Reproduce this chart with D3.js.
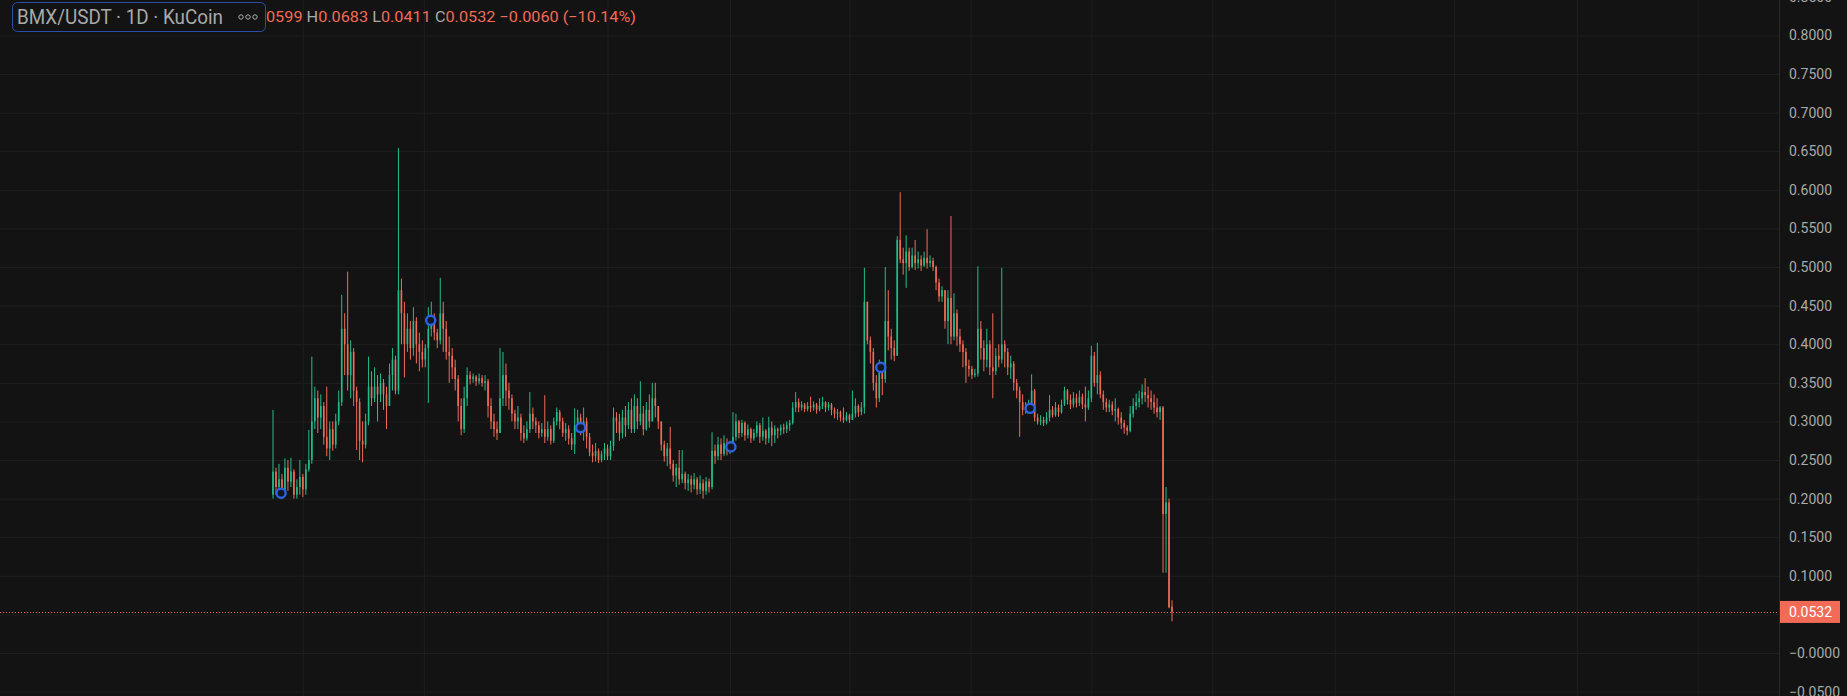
<!DOCTYPE html>
<html lang="en">
<head>
<meta charset="utf-8">
<title>BMX/USDT · 1D · KuCoin</title>
<script src="https://d3js.org/d3.v7.min.js"></script>
<style>
  html, body { margin: 0; padding: 0; background: #131313; overflow: hidden; }
  svg { display: block; font-family: Roboto, "Noto Sans", sans-serif; }
</style>
</head>
<body>
<svg id="chart"></svg>
<script>
// daily candles (open = previous close)
var firstOpen = 0.205;
var lastOpen = 0.0599;

var closes = [
  .235,.215,.225,.208,.240,.222,.235,.205,.215,.228,.212,.238,
  .250,.300,.330,.305,.320,.280,.265,.290,.270,.300,.325,
  .420,.400,.360,.390,.340,.325,.275,.270,.300,.345,.330,
  .345,.335,.350,.335,.320,.360,.380,.340,
  .470,.440,.400,.420,.395,.430,.400,.390,.380,.395,.420,
  .431,.415,.405,.440,.420,.390,.385,.370,.355,.320,.290,
  .330,.360,.355,.358,.352,.356,.350,.352,.320,.300,.290,.285,.330,.360,.340,
  .330,.310,.300,.305,.285,.278,.290,.310,.300,.295,.285,.290,.280,.290,.275,.300,.312,.300,.285,.290,.278,.270,
  .295,.305,.292,.300,.280,.260,.255,.262,.250,.258,.265,.255,.268,
  .305,.300,.285,.305,.295,.315,.290,.320,.300,.310,.290,.315,.300,.330,.320,.300,
  .270,.255,.265,.245,.230,.240,.225,.232,.220,.225,.218,.225,.212,.220,.210,.222,.215,
  .262,.255,.270,.258,.272,.262,.267,.280,.300,.285,
  .298,.282,.290,.278,.285,.295,.280,.288,.278,.292,.282,.290,.288,.292,.290,.295,.298,
  .318,.325,.318,.322,.316,.320,.318,.322,.315,.320,.325,.318,.322,.315,.310,.312,.305,.302,.308,.302,.310,.320,.312,.318,
  .455,.405,.390,.350,.330,.370,.355,.430,.410,.395,.385,
  .535,.510,.505,.520,.500,.515,.505,.510,.502,.512,.505,.508,.500,
  .480,.462,.470,.430,.460,.410,.440,.410,.400,.390,.372,.368,.360,.362,
  .420,.395,.380,.400,.370,.365,.385,.380,.400,.390,.370,.375,.350,.340,.325,.315,.318,.320,
  .340,.305,.300,.302,.298,.305,.315,.308,.318,.312,.322,.340,.328,.322,.330,.324,.332,.322,.318,.330,
  .385,.350,.360,.335,.325,.318,.322,.314,.316,.305,.298,.292,.288,.310,.320,.325,.330,.338,.334,.330,.325,.318,.312,
  .318,.180,.195,.0592,.0532
];

var highs = [
  .315,.240,.245,.232,.252,.250,.253,.238,.225,.250,.232,.245,
  .289,.384,.345,.340,.335,.325,.345,.300,.300,.310,.340,
  .464,.440,.494,.405,.395,.345,.330,.300,.310,.384,.365,
  .370,.360,.362,.355,.345,.375,.395,.385,
  .654,.485,.455,.440,.430,.448,.435,.415,.405,.400,.448,
  .455,.440,.420,.486,.455,.430,.410,.395,.380,.360,.330,
  .345,.370,.365,.362,.360,.362,.360,.360,.355,.330,.310,.300,.395,.390,.375,
  .350,.335,.315,.320,.310,.295,.300,.338,.318,.305,.300,.298,.334,.300,.295,.305,.318,.315,.305,.298,.295,.285,
  .317,.315,.310,.318,.305,.285,.270,.272,.265,.262,.272,.270,.275,
  .318,.312,.310,.315,.320,.325,.330,.335,.330,.352,.320,.325,.335,.350,.350,.320,
  .300,.275,.272,.293,.250,.245,.263,.263,.235,.232,.230,.233,.228,.230,.225,.228,.226,
  .286,.270,.280,.278,.282,.278,.275,.312,.310,.302,
  .302,.300,.296,.292,.290,.300,.298,.305,.290,.306,.300,.295,.292,.296,.297,.300,.302,
  .325,.338,.330,.326,.324,.325,.332,.326,.324,.330,.332,.326,.325,.324,.318,.316,.314,.318,.312,.310,.340,.330,.322,.325,
  .499,.455,.410,.395,.360,.380,.375,.500,.470,.420,.405,
  .540,.597,.525,.541,.525,.525,.535,.520,.515,.520,.549,.515,.512,
  .502,.485,.475,.468,.470,.566,.466,.445,.420,.405,.395,.380,.372,.368,
  .501,.430,.405,.420,.405,.440,.395,.400,.499,.405,.395,.385,.378,.355,.345,.335,.325,.328,
  .361,.342,.310,.308,.306,.312,.334,.320,.325,.322,.328,.345,.342,.335,.338,.336,.340,.336,.345,.340,
  .398,.390,.402,.365,.340,.330,.328,.326,.330,.318,.312,.302,.295,.320,.330,.336,.340,.348,.356,.345,.340,.335,.330,
  .320,.320,.215,.200,.0683
];

var lows = [
  .200,.205,.205,.200,.205,.210,.215,.200,.200,.205,.202,.205,
  .235,.245,.290,.285,.290,.270,.255,.250,.262,.265,.295,
  .320,.360,.340,.330,.320,.263,.250,.247,.265,.295,.320,
  .325,.300,.325,.315,.290,.320,.340,.335,
  .335,.400,.357,.390,.380,.385,.375,.365,.370,.370,.324,
  .410,.405,.395,.400,.390,.380,.350,.355,.340,.300,.282,
  .285,.320,.348,.350,.346,.348,.345,.340,.305,.290,.280,.276,.285,.320,.320,
  .315,.300,.290,.290,.275,.272,.275,.285,.290,.285,.278,.280,.272,.275,.270,.272,.295,.290,.280,.275,.270,.263,
  .258,.288,.282,.275,.265,.255,.247,.248,.246,.247,.250,.250,.250,
  .262,.285,.275,.278,.280,.290,.285,.285,.290,.295,.282,.288,.292,.300,.305,.290,
  .262,.248,.242,.238,.222,.215,.218,.220,.212,.210,.208,.212,.205,.206,.200,.205,.208,
  .212,.245,.250,.250,.255,.256,.258,.262,.275,.278,
  .280,.275,.278,.272,.275,.280,.272,.275,.270,.272,.268,.272,.278,.282,.284,.285,.288,
  .296,.312,.312,.314,.312,.313,.312,.314,.310,.313,.316,.312,.314,.308,.304,.302,.300,.298,.300,.298,.302,.305,.306,.308,
  .310,.400,.375,.340,.318,.325,.334,.350,.392,.380,.378,
  .440,.505,.490,.473,.495,.498,.496,.498,.495,.500,.498,.500,.495,
  .470,.455,.455,.420,.400,.400,.405,.398,.390,.370,.350,.358,.355,.357,
  .358,.380,.365,.370,.360,.330,.360,.370,.375,.370,.360,.355,.340,.330,.280,.308,.310,.310,
  .312,.300,.296,.295,.294,.296,.300,.305,.306,.306,.310,.320,.322,.316,.318,.318,.320,.316,.300,.315,
  .325,.345,.335,.330,.315,.312,.312,.308,.300,.296,.290,.284,.282,.286,.305,.315,.318,.322,.325,.318,.315,.310,.305,
  .302,.104,.104,.058,.0411
];

// blue event markers (candle index, price)
var markerIdx = [2.7, 52.8, 103, 153.3, 203.5, 253.5];
var markerVal = [0.207, 0.431, 0.292, 0.267, 0.370, 0.317];

var priceTicks = [-0.05, 0, 0.05, 0.10, 0.15, 0.20, 0.25, 0.30, 0.35, 0.40, 0.45, 0.50, 0.55, 0.60, 0.65, 0.70, 0.75, 0.80, 0.85];
var priceLabels = ["\u22120.0500", "\u22120.0000", "0.0500", "0.1000", "0.1500", "0.2000", "0.2500", "0.3000", "0.3500", "0.4000",
                   "0.4500", "0.5000", "0.5500", "0.6000", "0.6500", "0.7000", "0.7500", "0.8000", "0.8500"];
// vertical grid lines, in candle-index units
var timeTicks = [10, 50.5, 112, 153, 193, 233.5, 274, 314.5, 355.5, 395.5, 436.5, 477];

var symbolTitle = "BMX/USDT \u00b7 1D \u00b7 KuCoin";

if (closes.length !== highs.length || closes.length !== lows.length) {
    console.error("length mismatch", closes.length, highs.length, lows.length);
}

var width = 1847, height = 696, plotW = 1779;
var upColor = "#22bd8d", downColor = "#f26b57";

var candles = closes.map(function(c, i) {
    var o = i === 0 ? firstOpen : closes[i - 1];
    if (i === closes.length - 1) o = lastOpen;
    return { i: i, o: o, c: c,
             h: Math.max(highs[i], o, c), l: Math.min(lows[i], o, c) };
});
var last = candles[candles.length - 1];
var prevClose = candles[candles.length - 2].c;

var x = d3.scaleLinear().domain([0, candles.length - 1]).range([273, 1172]);
var y = d3.scaleLinear().domain([-0.0557, 0.8459]).range([height, 0]);

var svg = d3.select("#chart").attr("width", width).attr("height", height);
svg.append("rect").attr("width", width).attr("height", height).attr("fill", "#131313");

// grid
var gridH = svg.append("g")
    .call(d3.axisRight(y).tickValues(priceTicks).tickSize(plotW).tickFormat(""));
var gridV = svg.append("g")
    .call(d3.axisBottom(x).tickValues(timeTicks).tickSize(height).tickFormat(""));
[gridH, gridV].forEach(function(g) {
    g.select(".domain").remove();
    g.selectAll("line").attr("stroke", "#1f1f1f").attr("stroke-width", 1);
});

// candles
var cg = svg.append("g");
cg.selectAll("line.wick")
    .data(candles)
    .enter()
    .append("line")
    .attr("class", "wick")
    .attr("x1", function(d) { return x(d.i); })
    .attr("x2", function(d) { return x(d.i); })
    .attr("y1", function(d) { return y(d.h); })
    .attr("y2", function(d) { return y(d.l); })
    .attr("stroke", function(d) { return d.c >= d.o ? upColor : downColor; })
    .attr("stroke-width", 1);

cg.selectAll("rect.body")
    .data(candles)
    .enter()
    .append("rect")
    .attr("class", "body")
    .attr("x", function(d) { return x(d.i) - 0.8; })
    .attr("width", 1.6)
    .attr("y", function(d) { return y(Math.max(d.o, d.c)); })
    .attr("height", function(d) { return Math.max(1, Math.abs(y(d.o) - y(d.c))); })
    .attr("fill", function(d) { return d.c >= d.o ? upColor : downColor; });

// markers
svg.append("g").selectAll("circle")
    .data(markerIdx)
    .enter()
    .append("circle")
    .attr("cx", function(d) { return x(d); })
    .attr("cy", function(d, i) { return y(markerVal[i]); })
    .attr("r", 4.6)
    .attr("fill", "#111726")
    .attr("stroke", "#2f62e0")
    .attr("stroke-width", 2.4);

// last price line
var yLast = y(last.c);
svg.append("line")
    .attr("x1", 0).attr("x2", plotW)
    .attr("y1", Math.round(yLast) + 0.5).attr("y2", Math.round(yLast) + 0.5)
    .attr("stroke", downColor)
    .attr("stroke-width", 1)
    .attr("stroke-dasharray", "1,2");

// price axis
svg.append("line")
    .attr("x1", plotW + 0.5).attr("x2", plotW + 0.5)
    .attr("y1", 0).attr("y2", height)
    .attr("stroke", "#2a2a2a");

var axis = svg.append("g")
    .attr("transform", "translate(" + plotW + ",0)")
    .call(d3.axisRight(y).tickValues(priceTicks)
        .tickFormat(function(d, i) { return priceLabels[i]; })
        .tickSize(0).tickPadding(10));
axis.select(".domain").remove();
axis.selectAll("text")
    .attr("fill", "#a9a9a9")
    .attr("font-size", 14)
    .attr("font-family", "Roboto, sans-serif")
    .style("display", function(d) { return Math.abs(y(d) - yLast) < 14 ? "none" : null; });

svg.append("rect")
    .attr("x", plotW + 1).attr("y", yLast - 11)
    .attr("width", 60).attr("height", 22)
    .attr("fill", downColor);
svg.append("text")
    .attr("x", plotW + 10).attr("y", yLast + 5)
    .attr("fill", "#ffffff")
    .attr("font-size", 14)
    .text(last.c.toFixed(4));

// legend header
function fmt(v) { return v.toFixed(4).replace("-", "\u2212"); }
var change = last.c - prevClose;
var pct = change / prevClose * 100;

var vals = svg.append("text")
    .attr("y", 22)
    .attr("font-size", 15);
var parts = [["O", fmt(last.o)], [" H", fmt(last.h)], [" L", fmt(last.l)], [" C", fmt(last.c)],
             [" ", fmt(change) + " (" + pct.toFixed(2).replace("-", "\u2212") + "%)"]];
parts.forEach(function(p) {
    vals.append("tspan").attr("fill", "#a9a9a9").text(p[0]);
    vals.append("tspan").attr("fill", downColor).text(p[1]);
});
// stretch so the visible part runs from the box edge to x=636
var full = vals.node().getComputedTextLength();
var probe = svg.append("text").attr("font-size", 15).text("O0.");
var hidden = probe.node().getComputedTextLength();
probe.remove();
var k = 370 / (full - hidden);
vals.attr("x", 636 - full * k)
    .attr("textLength", full * k)
    .attr("lengthAdjust", "spacingAndGlyphs");

svg.append("rect")
    .attr("x", 12.5).attr("y", 2.5)
    .attr("width", 253).attr("height", 29)
    .attr("rx", 5)
    .attr("fill", "#131313")
    .attr("stroke", "#2b4fa8");
svg.append("text")
    .attr("x", 17).attr("y", 24)
    .attr("font-size", 19.5)
    .attr("fill", "#a9a9a9")
    .attr("textLength", 206)
    .attr("lengthAdjust", "spacingAndGlyphs")
    .text(symbolTitle);
svg.append("g").selectAll("circle")
    .data([241, 248, 255])
    .enter()
    .append("circle")
    .attr("cx", function(d) { return d; })
    .attr("cy", 17)
    .attr("r", 2.2)
    .attr("fill", "none")
    .attr("stroke", "#a9a9a9")
    .attr("stroke-width", 1);
</script>
</body>
</html>
